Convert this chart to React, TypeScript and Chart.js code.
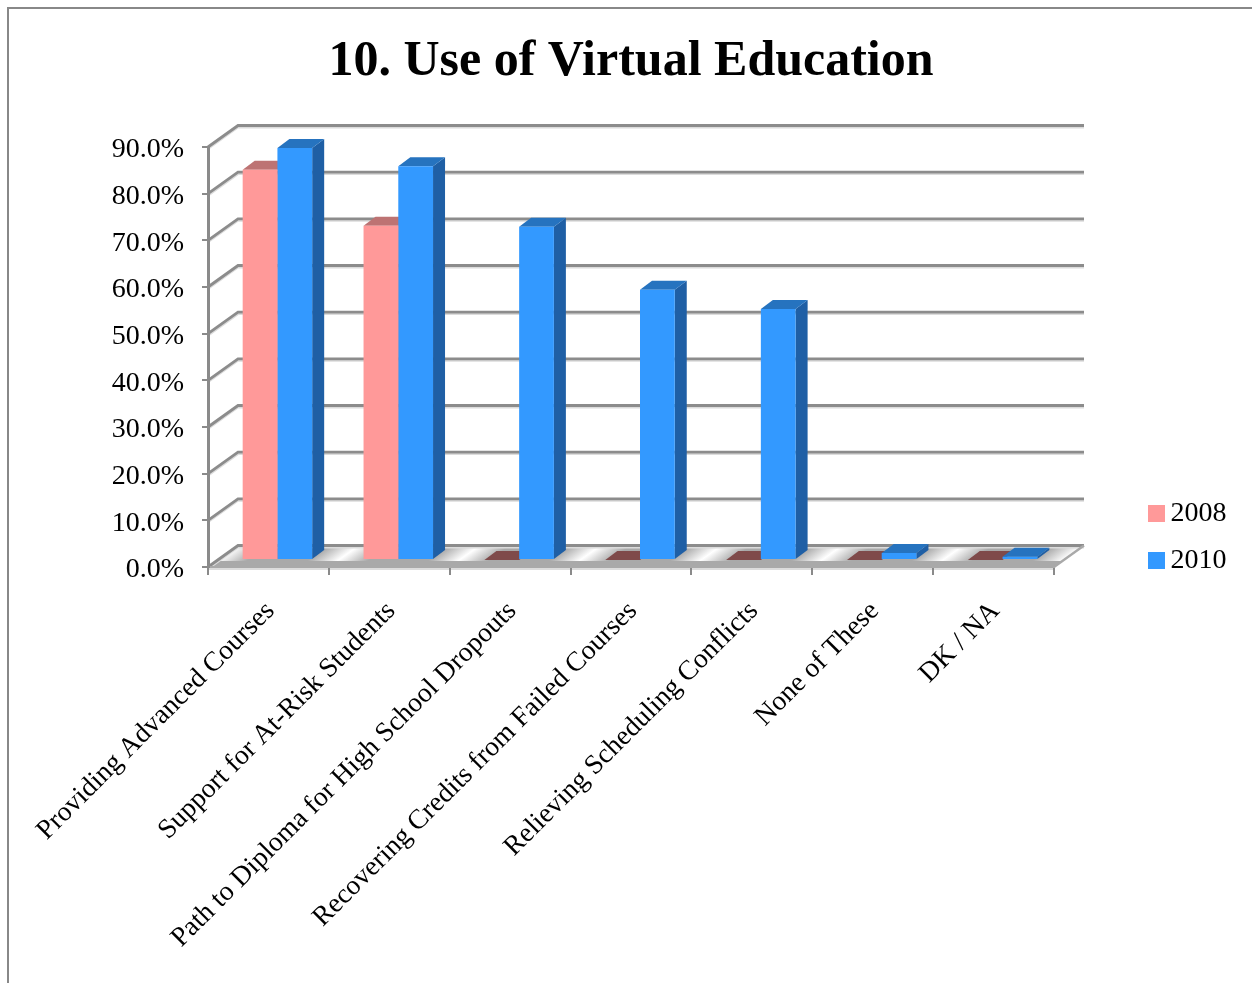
import React, { useEffect, useRef } from "react";
import { Chart, registerables } from "chart.js";

Chart.register(...registerables);

const categories = [
  "Providing Advanced Courses",
  "Support for At-Risk Students",
  "Path to Diploma for High School Dropouts",
  "Recovering Credits from Failed Courses",
  "Relieving Scheduling Conflicts",
  "None of These",
  "DK / NA",
];
const values2008 = [83.6, 71.6, 0, 0, 0, 0, 0];
const values2010 = [88.3, 84.4, 71.4, 57.9, 53.8, 1.5, 0.7];

const SERIF = "'Liberation Serif', serif";
const GRID_DARK = "#8c8c8c";
const GRID_LIGHT = "#dcdcdc";

// Depth of the box the bars stand in, and of each bar.
const WALL_DX = 30;
const WALL_DY = -21.5;
const BAR_SHIFT_X = 9;
const BAR_SHIFT_Y = -7;
const BAR_DX = 12;
const BAR_DY = -9;

const faces = [
  { top: "#bd7373", side: "#b56a6a", flat: "#7f4a4a" },
  { top: "#2673bf", side: "#1f5fa5", flat: "#2673bf" },
];

const box3d = {
  id: "box3d",
  beforeDraw(chart: any) {
    const { ctx, chartArea, scales } = chart;
    const { left, right } = chartArea;
    const y = scales.y;
    const x0 = y.getPixelForValue(0);
    ctx.save();

    // Sheet outline along the top and left edges.
    ctx.strokeStyle = "#888888";
    ctx.lineWidth = 2;
    ctx.beginPath();
    ctx.moveTo(8, 983);
    ctx.lineTo(8, 8);
    ctx.lineTo(1252, 8);
    ctx.stroke();

    // Floor with its diagonal sheen, one light band per category boundary.
    const span = right - left;
    const len = Math.hypot(WALL_DX, WALL_DY);
    const dirX = -WALL_DY / len;
    const dirY = WALL_DX / len;
    const reach = span * dirX;
    const sheen = ctx.createLinearGradient(left, x0, left + dirX * reach, x0 + dirY * reach);
    const n = categories.length;
    for (let i = 0; i <= n; i++) {
      const c = i / n;
      const w = 0.25 / n;
      if (c - w >= 0) sheen.addColorStop(c - w, "#a9a9a9");
      sheen.addColorStop(c, "#ffffff");
      if (c + w <= 1) sheen.addColorStop(c + w, "#a9a9a9");
    }
    ctx.fillStyle = sheen;
    ctx.beginPath();
    ctx.moveTo(left, x0);
    ctx.lineTo(left + WALL_DX, x0 + WALL_DY);
    ctx.lineTo(right + WALL_DX, x0 + WALL_DY);
    ctx.lineTo(right, x0);
    ctx.closePath();
    ctx.fill();

    // Flat grey strip at the front of the floor.
    const stripUp = 6;
    const stripDx = (stripUp / -WALL_DY) * WALL_DX;
    ctx.fillStyle = "#a9a9a9";
    ctx.beginPath();
    ctx.moveTo(left, x0);
    ctx.lineTo(left + stripDx, x0 - stripUp);
    ctx.lineTo(right + stripDx, x0 - stripUp);
    ctx.lineTo(right, x0);
    ctx.closePath();
    ctx.fill();

    // Pale edge under the front of the floor.
    ctx.strokeStyle = GRID_LIGHT;
    ctx.lineWidth = 2;
    ctx.beginPath();
    ctx.moveTo(left, x0 + 2);
    ctx.lineTo(right, x0 + 2);
    ctx.stroke();

    // Gridlines: side wall diagonal plus back wall rule, each with a pale underline.
    for (const tick of y.ticks) {
      const py = y.getPixelForValue(tick.value);
      const path = (dy: number) => {
        ctx.beginPath();
        ctx.moveTo(left, py + dy);
        ctx.lineTo(left + WALL_DX, py + WALL_DY + dy);
        ctx.lineTo(right + WALL_DX, py + WALL_DY + dy);
      };
      ctx.strokeStyle = GRID_LIGHT;
      ctx.lineWidth = 2;
      path(1.9);
      ctx.stroke();
      ctx.strokeStyle = GRID_DARK;
      ctx.lineWidth = 2.8;
      path(0);
      ctx.stroke();
    }

    // Right edge of the floor.
    ctx.strokeStyle = "#a9a9a9";
    ctx.lineWidth = 2.4;
    ctx.beginPath();
    ctx.moveTo(right, x0);
    ctx.lineTo(right + WALL_DX, x0 + WALL_DY);
    ctx.stroke();
    ctx.restore();
  },
  beforeDatasetsDraw(chart: any) {
    const { ctx } = chart;
    ctx.save();
    ctx.translate(BAR_SHIFT_X, BAR_SHIFT_Y);
    chart.data.datasets.forEach((ds: any, di: number) => {
      const meta = chart.getDatasetMeta(di);
      meta.data.forEach((bar: any, i: number) => {
        const { x, y, base, width } = bar.getProps(["x", "y", "base", "width"], true);
        const l = x - width / 2;
        const r = x + width / 2;
        const isFlat = ds.data[i] === 0;
        // Side face
        ctx.fillStyle = faces[di].side;
        ctx.beginPath();
        ctx.moveTo(r, y);
        ctx.lineTo(r + BAR_DX, y + BAR_DY);
        ctx.lineTo(r + BAR_DX, base + BAR_DY);
        ctx.lineTo(r, base);
        ctx.closePath();
        if (!isFlat) ctx.fill();
        // Top face
        ctx.fillStyle = isFlat ? faces[di].flat : faces[di].top;
        ctx.beginPath();
        ctx.moveTo(l, y);
        ctx.lineTo(l + BAR_DX, y + BAR_DY);
        ctx.lineTo(r + BAR_DX, y + BAR_DY);
        ctx.lineTo(r, y);
        ctx.closePath();
        ctx.fill();
      });
    });
  },
  afterDatasetsDraw(chart: any) {
    chart.ctx.restore();
  },
  afterLayout(chart: any) {
    // The key sits low at the right, beside the floor.
    const legend = chart.legend;
    if (legend) {
      legend.left = 1137.5;
      legend.right = 1252;
      legend.top = 480.5;
      legend.bottom = 983;
    }
  },
};

export default function App() {
  const ref = useRef<HTMLCanvasElement>(null);
  useEffect(() => {
    if (!ref.current) return;
    const chart = new Chart(ref.current, {
      type: "bar",
      data: {
        labels: categories,
        datasets: [
          { label: "2008", data: values2008, backgroundColor: "#ff9999", borderWidth: 0, clip: false },
          { label: "2010", data: values2010, backgroundColor: "#3399ff", borderWidth: 0, clip: false },
        ],
      } as any,
      plugins: [box3d],
      options: {
        animation: false,
        responsive: false,
        layout: { padding: { left: 0, right: 198, top: 32, bottom: 0 } },
        datasets: { bar: { categoryPercentage: 0.575, barPercentage: 1 } },
        scales: {
          x: {
            grid: { drawOnChartArea: false, color: "#8a8a8a", lineWidth: 2, tickLength: 8 },
            border: { color: "#a9a9a9", width: 2 },
            ticks: {
              autoSkip: false,
              minRotation: 45,
              maxRotation: 45,
              color: "#000000",
              padding: 20,
              labelOffset: 2,
              font: { family: SERIF, size: 27.6 },
            },
            afterFit(scale: any) {
              scale.height = 416;
            },
          },
          y: {
            min: 0,
            max: 90,
            grid: { drawOnChartArea: false, color: "#8a8a8a", lineWidth: 2, tickLength: 6 },
            border: { color: "#8a8a8a", width: 3 },
            ticks: {
              stepSize: 10,
              color: "#000000",
              padding: 18,
              labelOffset: 3,
              font: { family: SERIF, size: 28 },
              callback: (v: any) => `${Number(v).toFixed(1)}%`,
            },
            afterFit(scale: any) {
              scale.width = 208;
            },
          },
        },
        plugins: {
          tooltip: { enabled: false },
          title: {
            display: true,
            text: "10. Use of Virtual Education",
            fullSize: false,
            color: "#000000",
            font: { family: SERIF, size: 50, weight: "bold" },
            padding: { top: 0, bottom: 55 },
          },
          legend: {
            position: "chartArea" as any,
            align: "start",
            labels: {
              usePointStyle: true,
              pointStyle: "rect",
              boxWidth: 0.01,
              boxHeight: 17,
              padding: 19,
              color: "#000000",
              font: { family: SERIF, size: 28 },
            },
          },
        },
      },
    } as any);
    return () => chart.destroy();
  }, []);
  return (
    <canvas
      ref={ref}
      width={1252}
      height={983}
      style={{ position: "fixed", left: 0, top: 0, width: 1252, height: 983, display: "block" }}
    />
  );
}
